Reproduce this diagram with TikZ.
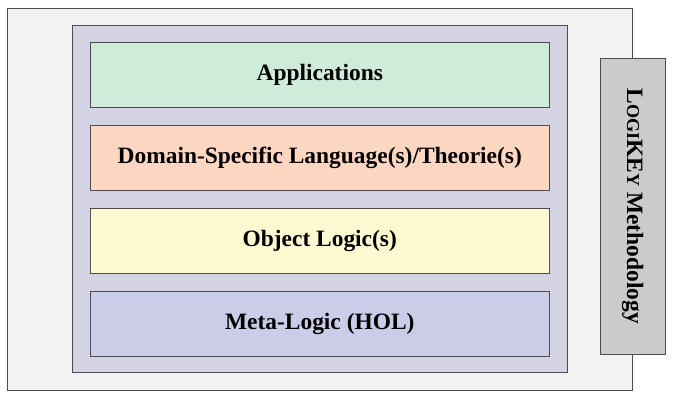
\documentclass[tikz,border=0pt]{standalone}
\usepackage{fontspec}
\setmainfont{Liberation Serif}
\usepackage{tikz}
\definecolor{outerbg}{HTML}{F2F2F2}
\definecolor{innerbg}{HTML}{D3D3E3}
\definecolor{appfill}{HTML}{CFEBDA}
\definecolor{dslfill}{HTML}{FDD7C2}
\definecolor{objfill}{HTML}{FFF9D2}
\definecolor{metafill}{HTML}{CACCE8}
\definecolor{sidefill}{HTML}{CBCBCB}
\newcommand{\fsc}[1]{{\fontsize{15.5}{18}\selectfont #1}}
\begin{document}
\begin{tikzpicture}[
            x=0.03cm, y=-0.03cm,
            layer/.style={
                draw=black!70, % 边框
                minimum width=13.77cm, % 宽度
                minimum height=1.95cm, % 高度
                anchor=north west,
                font=\fontsize{20}{24}\selectfont\bfseries
            }
        ]
        \useasboundingbox (0,0) rectangle (674,400);
        % 外框
        \draw[draw=black!70, fill=outerbg] (7,8) rectangle (632,390);
        \draw[draw=black!70, fill=innerbg] (72,25) rectangle (567,372);
        % 各层
        \node[layer, fill=appfill] (app) at (90,42) {Applications};
        \node[layer, fill=dslfill] (dsl) at (90,125) {Domain-Specific Language(s)/Theorie(s)};
        \node[layer, fill=objfill] (obj) at (90,208) {Object Logic(s)};
        \node[layer, fill=metafill] (meta) at (90,291) {Meta-Logic (HOL)};
        % 侧边
        \node[draw=black!70, fill=sidefill, anchor=north west,
              minimum width=1.95cm, minimum height=8.88cm] (side) at (600,58) {};
        \node[rotate=-90, font=\fontsize{20}{24}\selectfont\bfseries] (sidetext) at (side.center)
            {L\fsc{OGI}KE\fsc{Y} Methodology};
\end{tikzpicture}
\end{document}
